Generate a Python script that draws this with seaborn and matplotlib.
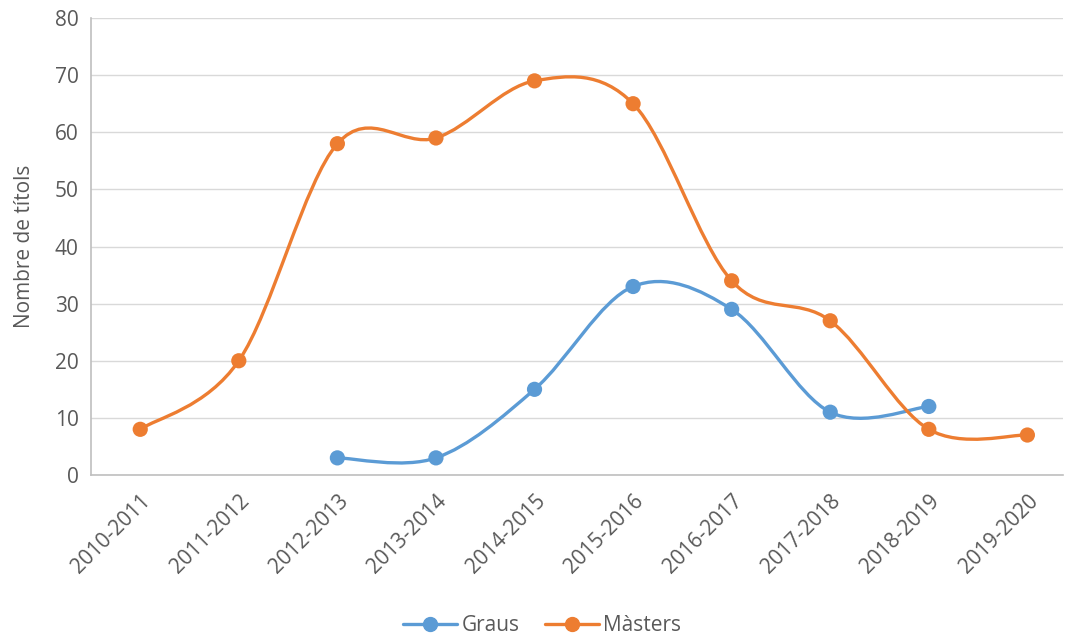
import matplotlib.pyplot as plt
import seaborn as sns
import pandas as pd
import numpy as np
from matplotlib.path import Path
from matplotlib.patches import PathPatch
from matplotlib.lines import Line2D

# Data
cursos = ["2010-2011", "2011-2012", "2012-2013", "2013-2014", "2014-2015",
          "2015-2016", "2016-2017", "2017-2018", "2018-2019", "2019-2020"]
graus = [None, None, 3, 3, 15, 33, 29, 11, 12, None]
masters = [8, 20, 58, 59, 69, 65, 34, 27, 8, 7]

blau = "#5B9BD5"
taronja = "#ED7D31"
gris = "#595959"

sns.set_theme(style="white")
plt.rcParams["font.family"] = ["Open Sans", "DejaVu Sans"]

df = pd.DataFrame({"curs": cursos, "Graus": graus, "Màsters": masters})
df["pos"] = range(len(cursos))
llarg = df.melt(id_vars=["curs", "pos"], value_vars=["Graus", "Màsters"],
                var_name="serie", value_name="titols").dropna()

fig = plt.figure(figsize=(10.65, 6.37), dpi=100)
ax = fig.add_axes([0.0854, 0.2543, 0.9126, 0.7174])


def corba_suau(xs, ys):
    # Excel-style smoothed line: cubic Bezier segments (Catmull-Rom)
    pts = np.column_stack([xs, ys]).astype(float)
    verts = [pts[0]]
    codes = [Path.MOVETO]
    n = len(pts)
    for i in range(n - 1):
        p0 = pts[i - 1] if i > 0 else pts[i]
        p1 = pts[i]
        p2 = pts[i + 1]
        p3 = pts[i + 2] if i + 2 < n else pts[i + 1]
        c1 = p1 + (p2 - p0) / 6.0
        c2 = p2 - (p3 - p1) / 6.0
        verts += [c1, c2, p2]
        codes += [Path.CURVE4] * 3
    return Path(verts, codes)


for serie, color in [("Graus", blau), ("Màsters", taronja)]:
    sub = llarg[llarg["serie"] == serie]
    ax.add_patch(PathPatch(corba_suau(sub["pos"], sub["titols"]),
                           facecolor="none", edgecolor=color, lw=2.4,
                           capstyle="round", joinstyle="round", zorder=3))

sns.scatterplot(data=llarg, x="pos", y="titols", hue="serie",
                palette={"Graus": blau, "Màsters": taronja},
                s=120, edgecolor="none", zorder=4, legend=False, ax=ax)

ax.set_xlim(-0.5, 9.36)
ax.set_ylim(0, 80)
ax.set_yticks(range(0, 81, 10))
ax.set_xticks(range(len(cursos)))
ax.set_xticklabels(cursos, rotation=45, ha="right", rotation_mode="anchor")
ax.tick_params(axis="both", colors=gris, labelsize=15, length=0)
ax.tick_params(axis="x", pad=11)
ax.tick_params(axis="y", pad=9)
ax.grid(axis="y", color="#D9D9D9", lw=1)
ax.set_axisbelow(True)
for s in ["top", "right"]:
    ax.spines[s].set_visible(False)
for s in ["left", "bottom"]:
    ax.spines[s].set_color("#BFBFBF")
    ax.spines[s].set_linewidth(1.2)
ax.set_xlabel("")
ax.set_ylabel("Nombre de títols", color=gris, fontsize=15, labelpad=14)

handles = [Line2D([], [], color=blau, lw=2.4, marker="o", markersize=10),
           Line2D([], [], color=taronja, lw=2.4, marker="o", markersize=10)]
fig.legend(handles, ["Graus", "Màsters"], loc="center", bbox_to_anchor=(0.509, 0.018),
           ncol=2, frameon=False, fontsize=15, labelcolor=gris,
           handlelength=2.6, columnspacing=1.2, handletextpad=0.2)

fig.savefig("out.png", dpi=100)
